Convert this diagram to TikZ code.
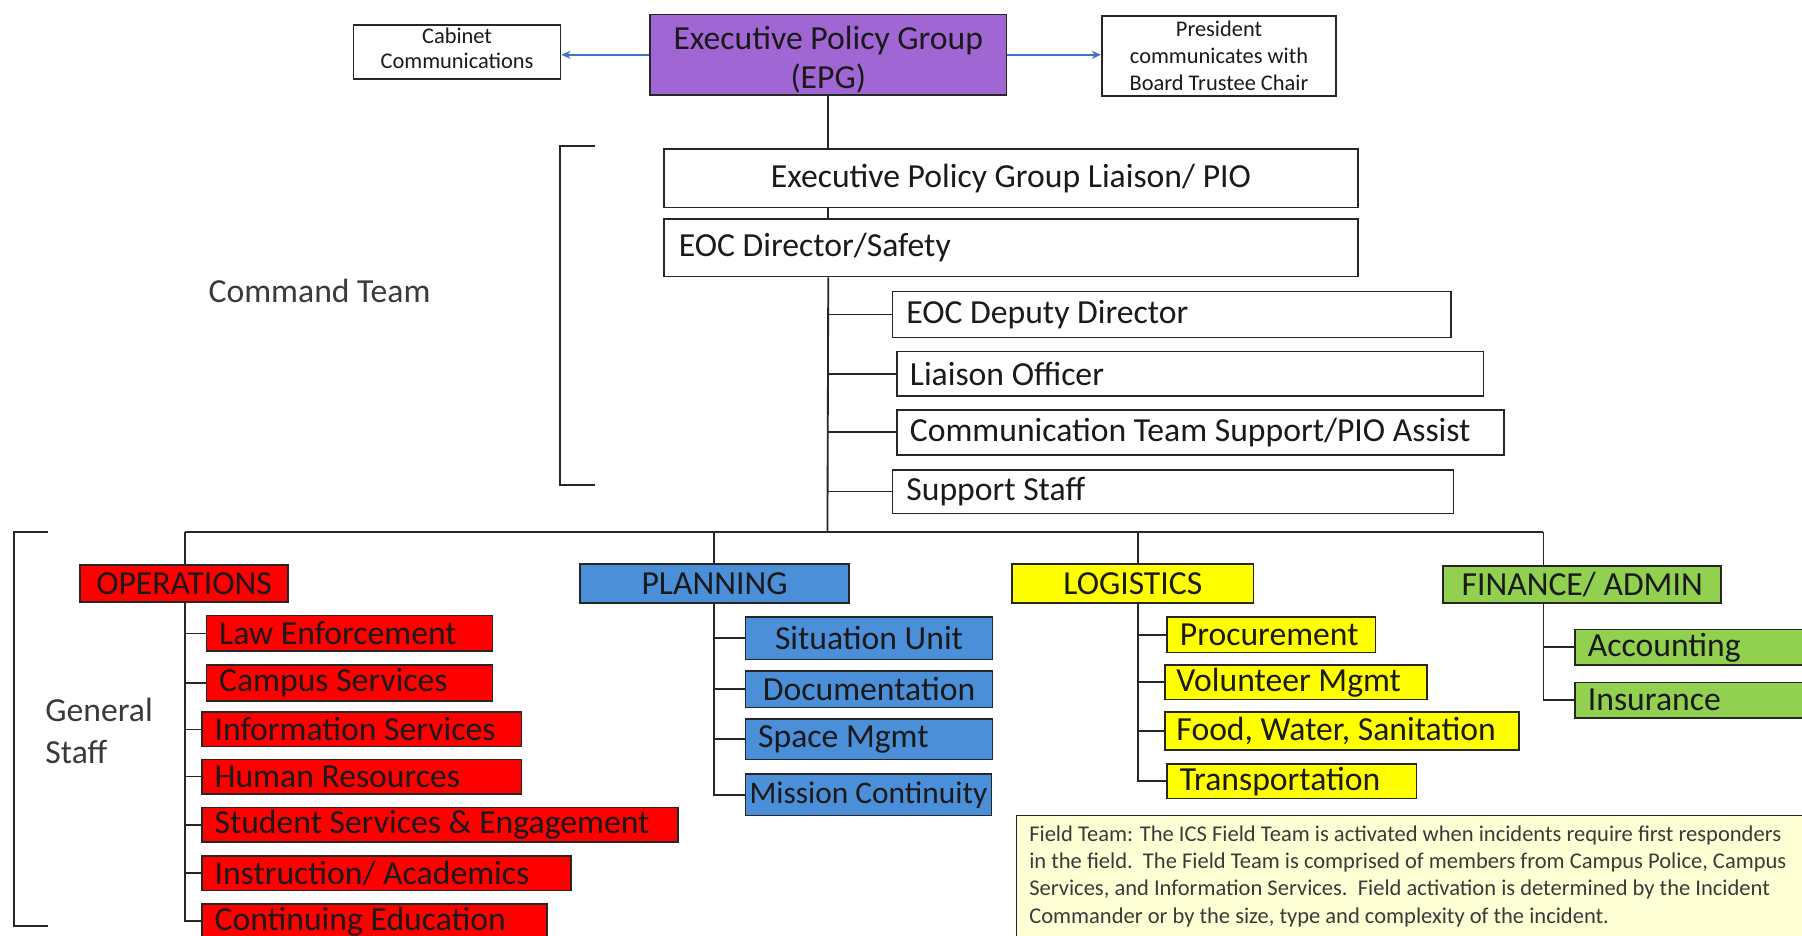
\documentclass[tikz,border=0pt]{standalone}
\usepackage{fontspec}
\setmainfont{Carlito}
\usetikzlibrary{positioning, backgrounds, arrows.meta}
\definecolor{edge}{HTML}{262626}
\definecolor{ink}{HTML}{1A1A1A}
\definecolor{labelgray}{HTML}{3A3A3A}
\definecolor{arrowblue}{HTML}{4472C4}
\definecolor{epgpurple}{HTML}{A066D3}
\definecolor{opsred}{HTML}{FF0000}
\definecolor{planblue}{HTML}{4A8FD8}
\definecolor{logyellow}{HTML}{FFFF00}
\definecolor{fingreen}{HTML}{92D050}
\definecolor{notecream}{HTML}{FFFFD6}

\begin{document}
\begin{tikzpicture}[x=1pt, y=-1pt,
  box/.style={rectangle, draw=edge, line width=1.4pt, anchor=north west, inner ysep=0pt, inner xsep=11pt, text=ink, font=\fontsize{29.3}{34}\selectfont},
  opsbox/.style={box, fill=opsred},
  planbox/.style={box, fill=planblue},
  logbox/.style={box, fill=logyellow},
  finbox/.style={box, fill=fingreen},
  conn/.style={draw=edge, line width=1.6pt},
  bluearrow/.style={-{Stealth[length=8pt,width=7pt]}, draw=arrowblue, line width=1.3pt},
  bracket/.style={draw=edge, line width=1.8pt}
]
\useasboundingbox (0,0) rectangle (1568,814);

% Top row
\node[box, align=center, minimum width=180pt, minimum height=47pt, inner xsep=2pt, font=\fontsize{19.5}{22}\selectfont] (cabinet) at (307,21) {Cabinet\\Communications\rule[-6pt]{0pt}{1pt}};
\node[box, fill=epgpurple, align=center, minimum width=310pt, minimum height=70pt] (epg) at (565,12) {\rule{0pt}{28pt}Executive Policy Group\\(EPG)};
\node[box, align=center, minimum width=204pt, minimum height=70pt, inner xsep=2pt, font=\fontsize{19.5}{23.5}\selectfont] (president) at (958,13) {President\\communicates with\\Board Trustee Chair};

% Command team
\node[box, minimum width=604pt, minimum height=51pt] (epgliaison) at (577,129) {Executive Policy Group Liaison/ PIO};
\node[box, align=flush left, text width=578pt, minimum height=50pt, inner xsep=13pt] (eocdir) at (577,190) {EOC Director/Safety};
\node[box, align=flush left, text width=462pt, minimum height=40pt, inner xsep=12pt] (deputy) at (776,253) {EOC Deputy Director};
\node[box, align=flush left, text width=488pt, minimum height=39pt] (liaison) at (780,305) {Liaison Officer};
\node[box, align=flush left, text width=506pt, minimum height=39pt] (comm) at (780,356) {Communication Team Support/PIO Assist};
\node[box, align=flush left, text width=464pt, minimum height=38pt, inner xsep=12pt] (support) at (776,408) {Support Staff};

\node[anchor=west, text=labelgray, font=\fontsize{29.3}{34}\selectfont] (cmdlabel) at (178,253) {Command Team};

% General staff: operations
\node[opsbox, minimum width=181pt, minimum height=32pt] (operations) at (69,491) {OPERATIONS};
\node[opsbox, align=flush left, text width=227pt, minimum height=31pt] (law) at (179,535) {Law Enforcement};
\node[opsbox, align=flush left, text width=227pt, minimum height=31pt] (campus) at (179,578) {Campus Services};
\node[opsbox, align=flush left, text width=256pt, minimum height=30pt] (info) at (175,619) {Information Services};
\node[opsbox, align=flush left, text width=256pt, minimum height=30pt] (hr) at (175,660) {Human Resources};
\node[opsbox, align=flush left, text width=392pt, minimum height=30pt] (student) at (175,702) {Student Services \& Engagement};
\node[opsbox, align=flush left, text width=299pt, minimum height=30pt] (instr) at (175,744) {Instruction/ Academics};
\node[opsbox, align=flush left, text width=278pt, minimum height=30pt] (contedu) at (175,786) {Continuing Education};

% planning
\node[planbox, minimum width=234pt, minimum height=34pt] (planning) at (504,490) {PLANNING};
\node[planbox, minimum width=215pt, minimum height=37pt] (situation) at (648,536) {Situation Unit};
\node[planbox, minimum width=215pt, minimum height=32pt] (documentation) at (648,583) {Documentation};
\node[planbox, align=flush left, text width=193pt, minimum height=35pt] (space) at (648,625) {Space Mgmt};
\node[planbox, minimum width=214pt, minimum height=36pt, inner xsep=2pt, font=\fontsize{27.3}{32}\selectfont] (mission) at (648,673) {Mission Continuity};

% logistics
\node[logbox, minimum width=210pt, minimum height=34pt] (logistics) at (880,490) {LOGISTICS};
\node[logbox, align=flush left, text width=159pt, minimum height=31pt] (procurement) at (1015,536) {Procurement};
\node[logbox, align=flush left, text width=208pt, minimum height=30pt, inner xsep=10pt] (volunteer) at (1013,578) {Volunteer Mgmt};
\node[logbox, align=flush left, text width=288pt, minimum height=33pt, inner xsep=10pt] (food) at (1013,619) {Food, Water, Sanitation};
\node[logbox, align=flush left, text width=195pt, minimum height=30pt] (transport) at (1015,664) {Transportation};

% finance
\node[finbox, minimum width=242pt, minimum height=32pt] (finance) at (1255,492) {FINANCE/ ADMIN};
\node[finbox, align=flush left, text width=238pt, minimum height=31pt] (accounting) at (1370,547) {Accounting};
\node[finbox, align=flush left, text width=238pt, minimum height=31pt] (insurance) at (1370,593) {Insurance};

\node[anchor=west, align=left, text=labelgray, font=\fontsize{29.3}{36}\selectfont] (genlabel) at (36,636) {General\\Staff};

% Field team note
\node[box, fill=notecream, draw=edge, line width=1.2pt, align=flush left, text width=720pt, inner ysep=9pt, text=labelgray, font=\fontsize{19.6}{23.7}\selectfont] (fieldnote) at (884,709) {Field Team: The ICS Field Team is activated when incidents require first responders\\
in the field.\ \ The Field Team is comprised of members from Campus Police, Campus\\
Services, and Information Services.\ \ Field activation is determined by the Incident\\
Commander or by the size, type and complexity of the incident.};

% Brackets
\draw[bracket] (518,127) -- (487,127) -- (487,422) -- (518,422);
\draw[bracket] (42,463) -- (12,463) -- (12,806) -- (42,806);

% Arrows to the side boxes
\draw[bluearrow] (epg.west) -- (epg.west -| cabinet.east);
\draw[bluearrow] (epg.east) -- (epg.east -| president.west);

% Connectors behind the boxes
\begin{pgfonlayer}{background}
  \fill[white] (0,0) rectangle (1568,814);
  \coordinate (hub) at (720,463);
  \coordinate (opsbus) at (161,463);
  \coordinate (planbus) at (621,463);
  \coordinate (logbus) at (990,463);
  \coordinate (finbus) at (1343,463);
  \draw[conn] (epg.south) -- (epg.south |- epgliaison.north);
  \draw[conn] (epg.south |- epgliaison.south) -- (epg.south |- eocdir.north);
  \draw[conn] (epg.south |- eocdir.south) -- (hub);
  \foreach \n in {deputy, liaison, comm, support}
    \draw[conn] (hub |- \n.west) -- (\n.west);
  \draw[conn] (opsbus) -- (finbus);
  \draw[conn] (opsbus) -- (opsbus |- contedu.west) -- (contedu.west);
  \foreach \n in {law, campus, info, hr, student, instr}
    \draw[conn] (opsbus |- \n.west) -- (\n.west);
  \draw[conn] (planbus) -- (planbus |- mission.west) -- (mission.west);
  \foreach \n in {situation, documentation, space}
    \draw[conn] (planbus |- \n.west) -- (\n.west);
  \draw[conn] (logbus) -- (logbus |- transport.west) -- (transport.west);
  \foreach \n in {procurement, volunteer, food}
    \draw[conn] (logbus |- \n.west) -- (\n.west);
  \draw[conn] (finbus) -- (finbus |- insurance.west) -- (insurance.west);
  \draw[conn] (finbus |- accounting.west) -- (accounting.west);
\end{pgfonlayer}
\end{tikzpicture}
\end{document}
